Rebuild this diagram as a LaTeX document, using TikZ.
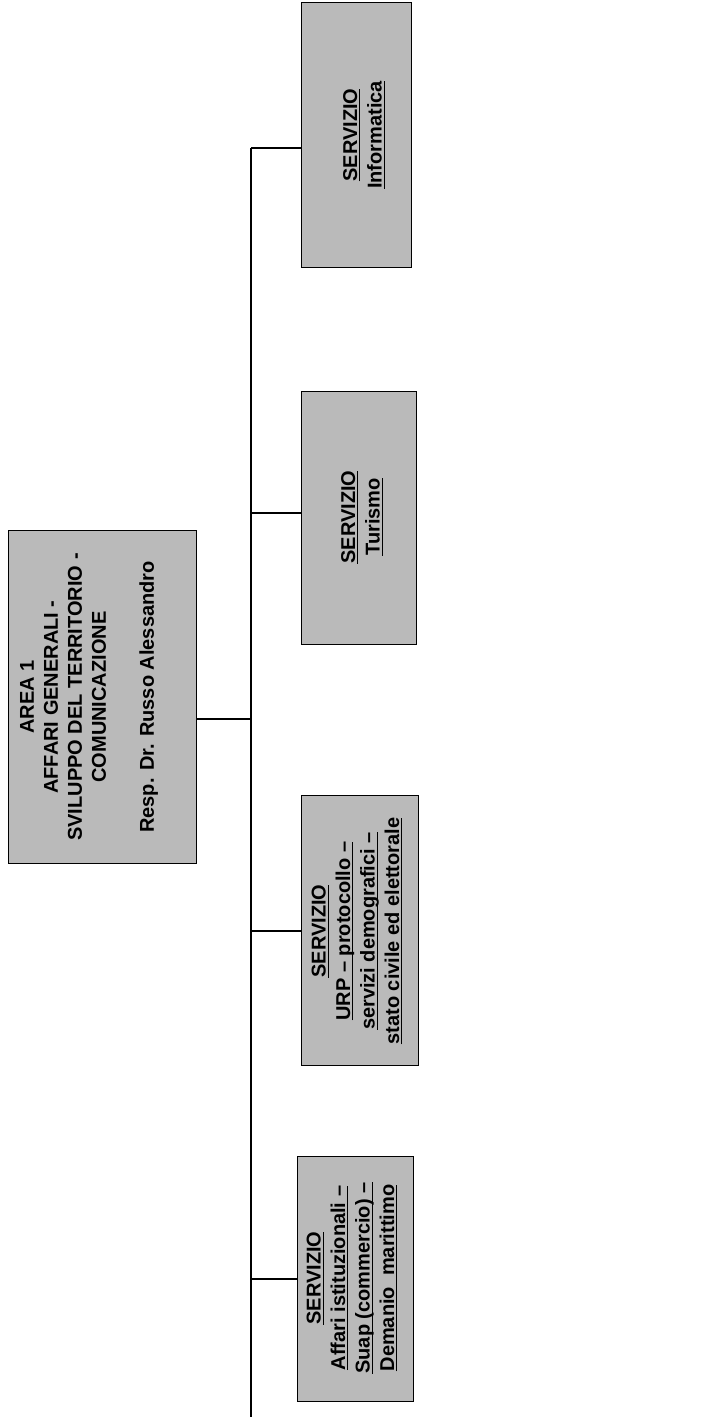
\documentclass[tikz,border=0pt]{standalone}
\usepackage{fontspec}
\setmainfont{Liberation Sans}
\newcommand{\myul}[1]{\setbox0\hbox{#1}\leavevmode\rlap{\rule[-3.2pt]{\wd0}{1.3pt}}\box0}
\begin{document}
\begin{tikzpicture}[x=1pt,y=-1pt,
  box/.style={draw=black, line width=1.3pt, fill=black!27, inner sep=0pt, anchor=north west},
  lbl/.style={rotate=90, align=center, inner sep=0pt, font=\fontsize{20}{24}\selectfont\bfseries},
  slbl/.style={rotate=90, align=center, inner sep=0pt, font=\fontsize{20}{24.5}\selectfont\bfseries},
  conn/.style={draw=black, line width=1.3pt}]
\useasboundingbox (0,0) rectangle (723,1421);

% boxes
\node[box, minimum width=188pt, minimum height=333pt] (mainbox) at (8,530) {};
\node[box, minimum width=110pt, minimum height=265pt] (infobox) at (301,2) {};
\node[box, minimum width=115pt, minimum height=253pt] (turbox) at (301,391) {};
\node[box, minimum width=117pt, minimum height=270pt] (urpbox) at (301,795) {};
\node[box, minimum width=116pt, minimum height=245pt] (affbox) at (297,1156) {};

% texts
\node[lbl] (maintext) at (89,697) {AREA 1\\AFFARI GENERALI -\\SVILUPPO DEL TERRITORIO -\\COMUNICAZIONE\\[24pt]Resp. Dr. Russo Alessandro};
\node[slbl] (infotext) at (364,135) {\myul{SERVIZIO}\\\myul{Informatica}};
\node[slbl] (turtext) at (362,517) {\myul{SERVIZIO}\\\myul{Turismo}};
\node[slbl] (urptext) at (357,931) {\myul{SERVIZIO}\\\myul{URP – protocollo –}\\\myul{servizi demografici –}\\\myul{stato civile ed elettorale}};
\node[slbl] (afftext) at (352,1278) {\myul{SERVIZIO}\\\myul{Affari istituzionali –}\\\myul{Suap (commercio) –}\\\myul{Demanio\ \ marittimo}};

% bus
\coordinate (bustop) at (251,148);
\coordinate (busbot) at (251,1417);
\draw[conn] (bustop) -- (busbot);

% connectors
\draw[conn] (mainbox.east |- 0,719) -- (bustop |- 0,719);
\draw[conn] (bustop) -- (infobox.west |- bustop);
\draw[conn] (bustop |- 0,513) -- (turbox.west |- 0,513);
\draw[conn] (bustop |- 0,931) -- (urpbox.west |- 0,931);
\draw[conn] (bustop |- 0,1279) -- (affbox.west |- 0,1279);
\end{tikzpicture}
\end{document}
